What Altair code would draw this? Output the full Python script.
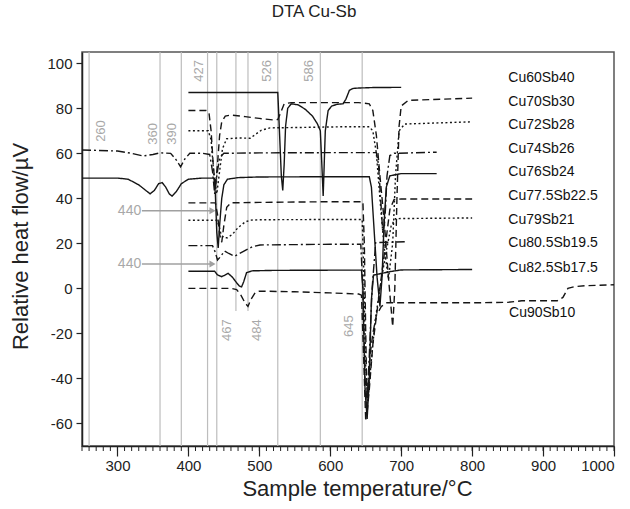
import altair as alt
import pandas as pd

# ---------------- data ----------------
names = ["Cu60Sb40", "Cu70Sb30", "Cu72Sb28", "Cu74Sb26", "Cu76Sb24",
         "Cu77.5Sb22.5", "Cu79Sb21", "Cu80.5Sb19.5", "Cu82.5Sb17.5", "Cu90Sb10"]
styles = ["solid", "dashed", "dotted", "dashdot", "solid",
          "dashed", "dotted", "dashdot", "solid", "dashed"]

t_60 = [400, 526, 527, 529, 531, 533, 535, 537, 540, 545, 555, 565, 575, 582, 586, 588, 590, 593, 597, 602, 610, 618, 622, 627, 632, 640, 660, 700]
v_60 = [87, 87, 80, 65, 50, 43.5, 55, 72, 80, 82, 81.5, 79.5, 76.5, 73, 70, 56, 41, 70, 79, 81, 81.8, 82, 84, 88, 88.8, 89, 89.2, 89.3]

t_70 = [400, 425, 429, 432, 435, 438, 441, 444, 447, 452, 460, 480, 500, 520, 526, 530, 535, 545, 600, 640, 655, 660, 665, 670, 676, 682, 688, 691, 694, 697, 700, 710, 800]
v_70 = [79, 79, 78, 70, 55, 45, 55, 68, 74, 76.5, 77, 76.3, 75.5, 74.8, 75, 78, 82, 82.5, 82.5, 82.5, 82, 79, 68, 50, 30, 5, -17, 0, 40, 72, 81, 83.5, 84.5]

t_72 = [400, 428, 432, 436, 440, 444, 448, 454, 470, 487, 495, 503, 515, 560, 620, 655, 660, 665, 670, 676, 682, 688, 692, 697, 705, 800]
v_72 = [70, 70, 66, 50, 42, 52, 62, 66.5, 66.8, 66.7, 68.5, 70.3, 71.3, 71.5, 71.8, 71.8, 70, 60, 40, 18, 4, 20, 50, 70, 73, 74]

t_74 = [250, 300, 320, 336, 350, 360, 375, 383, 389, 395, 402, 420, 430, 434, 437, 440, 444, 450, 500, 600, 665, 668, 671, 674, 677, 680, 684, 690, 750]
v_74 = [61.5, 61, 60, 58.8, 59.5, 60.2, 60, 57, 54, 57.5, 60, 60, 59.5, 52, 42, 50, 58, 60, 60.2, 60.3, 60.3, 55, 40, 25, 30, 50, 59, 60, 60.5]

t_76 = [250, 300, 315, 330, 340, 346, 352, 358, 363, 368, 373, 377, 383, 390, 400, 420, 436, 438, 440, 442, 444, 447, 450, 455, 470, 500, 600, 655, 658, 662, 666, 670, 673, 676, 679, 684, 700, 750]
v_76 = [49, 49, 48.5, 46, 43.5, 42, 43.5, 46.5, 47, 45, 42, 41, 43, 46.5, 48.5, 49, 49, 42, 25, 18, 28, 40, 46, 48.5, 49.2, 49.5, 49.6, 49.6, 45, 25, 5, -8, 5, 30, 45, 50, 51, 51]

t_775 = [400, 438, 441, 444, 447, 450, 454, 460, 500, 600, 646, 648, 650, 652, 655, 660, 666, 672, 678, 684, 690, 700, 800]
v_775 = [38, 38, 33, 24, 20.5, 28, 36, 38, 38.2, 38.5, 38.5, 20, -20, -55, -45, -25, -10, 5, 20, 35, 39.5, 39.7, 39.7]

t_79 = [400, 440, 443, 446, 450, 455, 462, 470, 480, 487, 500, 600, 645, 647, 650, 653, 657, 663, 670, 678, 686, 692, 800]
v_79 = [30.3, 30.3, 28, 24, 22.5, 22.5, 24, 27, 29.5, 30.3, 30.5, 30.6, 30.6, 10, -35, -50, -35, -15, 0, 15, 28, 31, 31.3]

t_805 = [400, 434, 438, 441, 445, 451, 457, 465, 475, 490, 501, 600, 643, 646, 649, 652, 655, 659, 664, 680, 705]
v_805 = [19, 19, 16, 12.6, 14, 16.6, 15.5, 14.3, 16, 18.5, 19.3, 19.6, 19.6, 0, -40, -50, -30, 0, 20.3, 20.5, 20.7]

t_825 = [400, 437, 441, 447, 452, 456, 462, 468, 472, 475, 478, 482, 490, 520, 600, 644, 646, 649, 652, 655, 658, 661, 670, 685, 700, 800]
v_825 = [7.6, 7.6, 6, 5.2, 6, 6.7, 5, 2.5, 1, 0.7, 3, 7, 7.8, 8, 8.1, 8.1, 0, -45, -58, -40, -5, 5.9, 6.5, 7.5, 8.2, 8.4]

t_90 = [400, 460, 468, 474, 480, 484, 488, 494, 500, 550, 600, 640, 644, 647, 650, 653, 656, 660, 665, 672, 680, 700, 800, 850, 870, 920, 928, 935, 945, 960, 1000]
v_90 = [0, 0, -0.5, -3, -6.5, -8, -5, -2, -1.2, -1.5, -2, -2.5, -3, -30, -59, -45, -30, -20, -12, -8, -6.3, -6.4, -6.4, -6.2, -5.5, -5.5, -4, 0, 0.8, 1.2, 1.6]

series_t = [t_60, t_70, t_72, t_74, t_76, t_775, t_79, t_805, t_825, t_90]
series_v = [v_60, v_70, v_72, v_74, v_76, v_775, v_79, v_805, v_825, v_90]

# curve name labels (data coordinates)
label_t = [851, 851, 851, 851, 851, 851, 851, 851, 851, 852]
label_v = [93.3, 82.9, 72.6, 62.1, 51.6, 41.0, 30.3, 20.0, 9.2, -11.1]

# characteristic temperatures (grey reference lines)
ref_t = [260, 360, 390, 427, 440, 467, 484, 526, 586, 645]
ref_top = [105] * 10
ref_bottom = [-70, -70, -70, -70, -70, -10, -10, -70, -70, -70]
ref_text = ["260", "360", "390", "427", "", "467", "484", "526", "586", "645"]
ref_label_t = [277, 350, 377, 415, 440, 454, 496.5, 510.6, 569.7, 626]
ref_label_v = [69.9, 68.6, 68.6, 96.6, 0, -18.5, -18.5, 96.6, 96.6, -16.8]

# "440" arrows
arrow_y = [34.5, 10.8]
arrow_from = [334.5, 334.5]
arrow_to = [434, 434]
arrow_label_t = [317, 317]

# ---------------- frames ----------------
dash_map = {"solid": [1, 0], "dashed": [7, 4], "dotted": [2, 2.5], "dashdot": [9, 3, 2, 3]}
rows = []
for n, ts, vs in zip(names, series_t, series_v):
    for i, (t, v) in enumerate(zip(ts, vs)):
        rows.append({"series": n, "T": t, "v": v, "i": i})
curves = pd.DataFrame(rows)

labels_df = pd.DataFrame({"name": names, "T": label_t, "v": label_v})
ref_df = pd.DataFrame({"T": ref_t, "top": ref_top, "bottom": ref_bottom})
ref_lab_df = pd.DataFrame({"text": ref_text, "T": ref_label_t, "v": ref_label_v})
ref_lab_df = ref_lab_df[ref_lab_df["text"] != ""]
arrow_df = pd.DataFrame({"y": arrow_y, "x1": arrow_from, "x2": arrow_to, "lt": arrow_label_t, "text": ["440", "440"]})
minor_df = pd.DataFrame({"T": list(range(250, 1001, 10))})

FONT = "Liberation Sans"
xs = alt.Scale(domain=[250, 1000], nice=False, zero=False)
ys = alt.Scale(domain=[-70, 105], nice=False, zero=False)

common = dict(labelFont=FONT, titleFont=FONT, labelFontSize=15, titleFontSize=22,
              titleFontWeight="normal", labelColor="#222", titleColor="#222",
              domainColor="#222", domainWidth=1.5, tickColor="#222", tickWidth=1.2,
              labelExpr="datum.value + ''", grid=False)

x_axis = alt.Axis(values=list(range(300, 1001, 100)), title="Sample temperature/°C",
                  tickSize=10, labelPadding=2, titleX=275, titleY=42,
                  titleBaseline="middle", titleAlign="center", **common)
y_axis = alt.Axis(values=list(range(-60, 101, 20)), title="Relative heat flow/µV",
                  tickSize=6, labelPadding=4, titleX=-62, titleY=194,
                  titleBaseline="middle", titleAlign="center", titleAngle=270, **common)

GREY = "#bdbdbd"

refs = alt.Chart(ref_df).mark_rule(color=GREY, strokeWidth=1.2).encode(
    x=alt.X("T:Q", scale=xs, axis=x_axis),
    y=alt.Y("top:Q", scale=ys, axis=y_axis),
    y2="bottom:Q",
)

ref_labels = alt.Chart(ref_lab_df).mark_text(
    angle=270, align="center", baseline="middle", fontSize=13, font=FONT, color="#a8a8a8"
).encode(x=alt.X("T:Q", scale=xs), y=alt.Y("v:Q", scale=ys), text="text:N")

arrows = alt.Chart(arrow_df).mark_rule(color="#a0a0a0", strokeWidth=1.5).encode(
    x=alt.X("x1:Q", scale=xs), x2="x2:Q", y=alt.Y("y:Q", scale=ys)
)
heads = alt.Chart(arrow_df).mark_point(shape="triangle-right", filled=True, size=50,
                                       color="#a0a0a0", opacity=1).encode(
    x=alt.X("x2:Q", scale=xs), y=alt.Y("y:Q", scale=ys)
)
arrow_labels = alt.Chart(arrow_df).mark_text(
    align="center", baseline="middle", fontSize=14, font=FONT, color="#a8a8a8"
).encode(x=alt.X("lt:Q", scale=xs), y=alt.Y("y:Q", scale=ys), text="text:N")

lines = alt.Chart(curves).mark_line(strokeWidth=1.4, color="#151515").encode(
    x=alt.X("T:Q", scale=xs),
    y=alt.Y("v:Q", scale=ys),
    detail="series:N",
    order="i:Q",
    strokeDash=alt.StrokeDash("series:N", legend=None,
                              scale=alt.Scale(domain=names,
                                              range=[dash_map[s] for s in styles])),
)

names_txt = alt.Chart(labels_df).mark_text(
    align="left", baseline="middle", fontSize=14, font=FONT, color="#111"
).encode(x=alt.X("T:Q", scale=xs), y=alt.Y("v:Q", scale=ys), text="name:N")

minor = alt.Chart(minor_df).mark_rule(color="#222", strokeWidth=1).encode(
    x=alt.X("T:Q", scale=xs), y=alt.value(394), y2=alt.value(399)
)

title_txt = alt.Chart(pd.DataFrame({"t": ["DTA Cu-Sb"]})).mark_text(
    align="center", baseline="middle", fontSize=17, font=FONT, color="#222"
).encode(x=alt.value(232), y=alt.value(-40), text="t:N")

chart = alt.layer(refs, ref_labels, arrows, heads, arrow_labels, lines, names_txt, minor, title_txt).properties(
    width=532, height=394,
    autosize=alt.AutoSizeParams(type="none"),
    padding={"left": 82, "top": 52, "right": 16, "bottom": 63},
    background="white",
).configure_view(
    stroke="#555", strokeWidth=1.5
)

chart.save("out.html", embed_options={"renderer": "svg", "actions": False})
